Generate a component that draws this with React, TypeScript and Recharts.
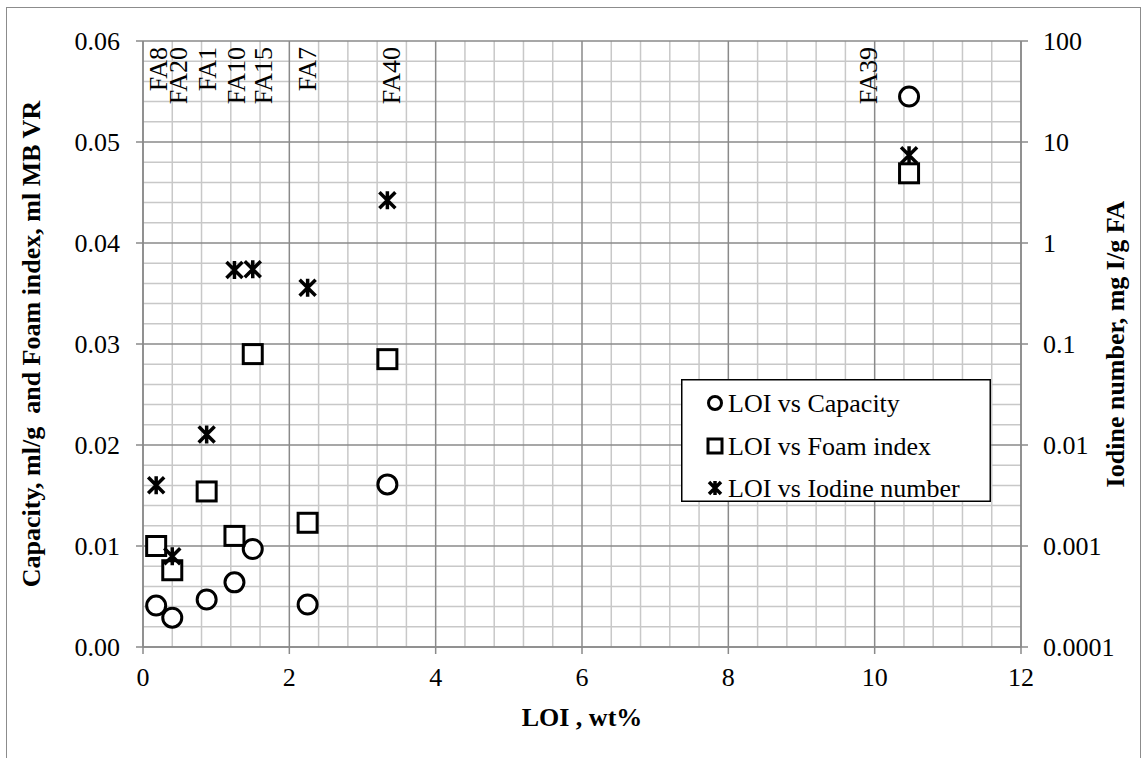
import React from 'react';
import { ScatterChart, Scatter, XAxis, YAxis, CartesianGrid, Legend } from 'recharts';

// ---- data ----
const sampleNames = ['FA8', 'FA20', 'FA1', 'FA10', 'FA15', 'FA7', 'FA40', 'FA39'];
const loi = [0.18, 0.4, 0.87, 1.25, 1.5, 2.25, 3.34, 10.47];
const capacity = [0.0041, 0.0029, 0.0047, 0.0064, 0.0097, 0.0042, 0.0161, 0.0545];
const foamIndex = [0.01, 0.0076, 0.0154, 0.011, 0.029, 0.0123, 0.0285, 0.0469];
const iodineNumber = [0.004, 0.00079, 0.0127, 0.54, 0.55, 0.36, 2.65, 7.4];
// where each sample-name label sits along the LOI axis
const labelLoi = [0.33, 0.6, 1.0, 1.4, 1.76, 2.37, 3.51, 10.03];

// ---- axes ----
const xTicks = [0, 2, 4, 6, 8, 10, 12];
const leftTicks = [0, 0.01, 0.02, 0.03, 0.04, 0.05, 0.06];
const rightTicks = [0.0001, 0.001, 0.01, 0.1, 1, 10, 100];
const rightTickLabels = ['0.0001', '0.001', '0.01', '0.1', '1', '10', '100'];
const minorX = [
  0.4, 0.8, 1.2, 1.6, 2.4, 2.8, 3.2, 3.6, 4.4, 4.8, 5.2, 5.6, 6.4, 6.8, 7.2, 7.6,
  8.4, 8.8, 9.2, 9.6, 10.4, 10.8, 11.2, 11.6,
];
const minorY = [
  0.002, 0.004, 0.006, 0.008, 0.012, 0.014, 0.016, 0.018, 0.022, 0.024, 0.026, 0.028,
  0.032, 0.034, 0.036, 0.038, 0.042, 0.044, 0.046, 0.048, 0.052, 0.054, 0.056, 0.058,
];

const seriesNames = ['LOI vs Capacity', 'LOI vs Foam index', 'LOI vs Iodine number'];

const capacityData = loi.map((x, i) => ({ x, y: capacity[i] }));
const foamData = loi.map((x, i) => ({ x, y: foamIndex[i] }));
const iodineData = loi.map((x, i) => ({ x, y: iodineNumber[i] }));
const labelData = sampleNames.map((name, i) => ({ x: labelLoi[i], y: 0.06, name }));

const FONT = '"Liberation Serif", "Times New Roman", Times, serif';
const MAJOR = '#8a8a8a';
const MINOR = '#c8c8c8';

const scaleOf = (axis: any, v: number, fallback: number) =>
  axis && typeof axis.scale === 'function' ? axis.scale(v) : fallback;

const CircleMark = (p: any) => (
  <circle cx={p.cx} cy={p.cy} r={9.5} fill="#fff" stroke="#000" strokeWidth={3} />
);
const SquareMark = (p: any) => (
  <rect x={p.cx - 9.5} y={p.cy - 9.5} width={19} height={19} fill="#fff" stroke="#000" strokeWidth={3} />
);
const starPath = (cx: number, cy: number, d: number, v: number) =>
  `M${cx - d},${cy - d}L${cx + d},${cy + d}M${cx + d},${cy - d}L${cx - d},${cy + d}M${cx},${cy - v}L${cx},${cy + v}`;
const StarMark = (p: any) => (
  <path d={starPath(p.cx, p.cy, 8, 9)} stroke="#000" strokeWidth={3.5} fill="none" />
);
const NameLabel = (p: any) => (
  <text
    transform={`translate(${p.cx},${p.cy + 6}) rotate(-90)`}
    textAnchor="end"
    fontSize={26}
    fill="#000"
    fontFamily={FONT}
  >
    {p.payload.name}
  </text>
);

const legendContent = () => (
  <svg width={310} height={123} style={{ display: 'block' }}>
    <rect x={0.75} y={0.75} width={308.5} height={121.5} fill="#fff" stroke="#000" strokeWidth={1.5} />
    <circle cx={34} cy={24} r={6.5} fill="#fff" stroke="#000" strokeWidth={3} />
    <rect x={27} y={60} width={14} height={14} fill="#fff" stroke="#000" strokeWidth={3} />
    <path d={starPath(34, 109, 6, 7)} stroke="#000" strokeWidth={3.5} fill="none" />
    {seriesNames.map((n, i) => (
      <text key={n} x={47} y={[24, 67, 109][i] + 9} fontSize={26} fill="#000" fontFamily={FONT}>
        {n}
      </text>
    ))}
  </svg>
);

const xTitle = (props: any) => {
  const vb = props.viewBox || { x: 143, y: 647, width: 878, height: 111 };
  return (
    <text x={vb.x + vb.width / 2} y={vb.y + 79} textAnchor="middle" fontSize={26} fontWeight="bold" fill="#000" fontFamily={FONT}>
      LOI , wt%
    </text>
  );
};
const leftTitle = (props: any) => {
  const vb = props.viewBox || { x: 0, y: 41, width: 143, height: 606 };
  return (
    <text
      transform={`translate(${vb.x + 40},${vb.y + vb.height / 2}) rotate(-90)`}
      textAnchor="middle"
      fontSize={26}
      fontWeight="bold"
      fill="#000"
      fontFamily={FONT}
      style={{ whiteSpace: 'pre' }}
    >
      {'Capacity, ml/g  and Foam index, ml MB VR'}
    </text>
  );
};
const rightTitle = (props: any) => {
  const vb = props.viewBox || { x: 1021, y: 41, width: 123, height: 606 };
  return (
    <text
      transform={`translate(${vb.x + 103},${vb.y + vb.height / 2}) rotate(-90)`}
      textAnchor="middle"
      fontSize={26}
      fontWeight="bold"
      fill="#000"
      fontFamily={FONT}
    >
      Iodine number, mg I/g FA
    </text>
  );
};

const tickStyle = { fontSize: 26, fill: '#000', fontFamily: FONT };
const axisLine = { stroke: MAJOR, strokeWidth: 1.5 };

export default function App() {
  return (
    <div style={{ position: 'absolute', left: 0, top: 0, width: 1144, height: 758, overflow: 'hidden', background: '#fff', fontFamily: FONT }}>
      <div
        style={{
          position: 'absolute',
          left: 6,
          top: 7,
          width: 1135,
          height: 800,
          border: '1.5px solid #8c8c8c',
          boxSizing: 'border-box',
        }}
      />
      <div style={{ position: 'absolute', left: 0, top: 0 }}>
        <ScatterChart width={1144} height={758} margin={{ top: 41, right: 0, bottom: 0, left: 0 }}>
          <CartesianGrid
            xAxisId={0}
            yAxisId="left"
            stroke={MINOR}
            strokeWidth={1.5}
            verticalCoordinatesGenerator={({ xAxis, offset }: any) =>
              minorX.map((v) => scaleOf(xAxis, v, offset.left + (v / 12) * offset.width))
            }
            horizontalCoordinatesGenerator={({ yAxis, offset }: any) =>
              minorY.map((v) => scaleOf(yAxis, v, offset.top + offset.height - (v / 0.06) * offset.height))
            }
          />
          <CartesianGrid
            xAxisId={0}
            yAxisId="left"
            stroke={MAJOR}
            strokeWidth={1.5}
            verticalCoordinatesGenerator={({ xAxis, offset }: any) =>
              xTicks.map((v) => scaleOf(xAxis, v, offset.left + (v / 12) * offset.width))
            }
            horizontalCoordinatesGenerator={({ yAxis, offset }: any) =>
              leftTicks.map((v) => scaleOf(yAxis, v, offset.top + offset.height - (v / 0.06) * offset.height))
            }
          />
          <XAxis
            xAxisId={0}
            type="number"
            dataKey="x"
            domain={[0, 12]}
            ticks={xTicks}
            interval={0}
            allowDataOverflow
            height={111}
            tick={tickStyle}
            tickSize={7}
            tickMargin={14}
            tickLine={axisLine}
            axisLine={axisLine}
            label={xTitle}
          />
          <YAxis
            yAxisId="left"
            orientation="left"
            type="number"
            dataKey="y"
            domain={[0, 0.06]}
            ticks={leftTicks}
            interval={0}
            allowDataOverflow
            width={143}
            tick={tickStyle}
            tickSize={7}
            tickMargin={16}
            tickLine={axisLine}
            axisLine={axisLine}
            tickFormatter={(v: number) => v.toFixed(2)}
            label={leftTitle}
          />
          <YAxis
            yAxisId="right"
            orientation="right"
            type="number"
            scale="log"
            dataKey="y"
            domain={[0.0001, 100]}
            ticks={rightTicks}
            interval={0}
            allowDataOverflow
            width={123}
            tick={tickStyle}
            tickSize={7}
            tickMargin={15}
            tickLine={axisLine}
            axisLine={axisLine}
            tickFormatter={(v: number) => rightTickLabels[rightTicks.indexOf(v)] ?? String(v)}
            label={rightTitle}
          />
          <Legend
            layout="horizontal"
            verticalAlign="middle"
            align="center"
            content={legendContent}
            wrapperStyle={{ left: 681, top: 379, width: 310, height: 123, right: 'auto', bottom: 'auto' }}
          />
          <Scatter name="labels" data={labelData} xAxisId={0} yAxisId="left" shape={NameLabel} isAnimationActive={false} legendType="none" />
          <Scatter name={seriesNames[0]} data={capacityData} xAxisId={0} yAxisId="left" shape={CircleMark} isAnimationActive={false} />
          <Scatter name={seriesNames[1]} data={foamData} xAxisId={0} yAxisId="left" shape={SquareMark} isAnimationActive={false} />
          <Scatter name={seriesNames[2]} data={iodineData} xAxisId={0} yAxisId="right" shape={StarMark} isAnimationActive={false} />
        </ScatterChart>
      </div>
    </div>
  );
}
